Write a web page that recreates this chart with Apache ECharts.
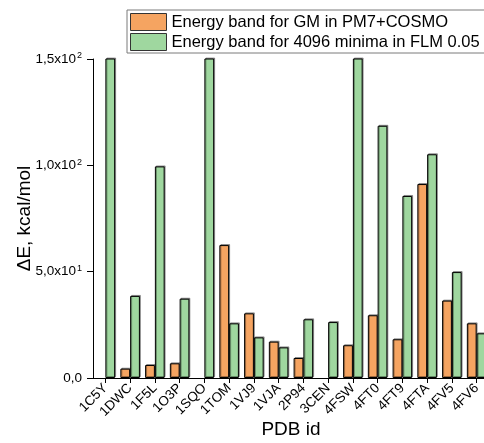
<!DOCTYPE html>
<html>
<head>
<meta charset="utf-8">
<script src="https://cdn.jsdelivr.net/npm/echarts@6/dist/echarts.min.js"></script>
<style>
html,body{margin:0;padding:0;background:#fff;}
#chart{width:484px;height:443px;}
</style>
</head>
<body>
<div id="chart"></div>
<script>
const categories = ['1C5Y','1DWC','1F5L','1O3P','1SQO','1TOM','1VJ9','1VJA','2P94','3CEN','4FSW','4FT0','4FT9','4FTA','4FV5','4FV6'];
const gmValues = [null, 4.4, 6.1, 6.9, null, 62.5, 30.4, 17.1, 9.4, null, 15.4, 29.5, 18.2, 91.2, 36.4, 25.7];
const flmValues = [165, 38.6, 99.5, 37.3, 165, 25.7, 19.1, 14.4, 27.6, 26.3, 165, 118.6, 85.6, 105.2, 49.8, 21.0];
const seriesNames = ['Energy band for GM in PM7+COSMO', 'Energy band for 4096 minima in FLM 0.05'];
const yTickLabels = {0: '0,0', 50: '5,0x10{sup|1}', 100: '1,0x10{sup|2}', 150: '1,5x10{sup|2}'};

const FONT = '"Liberation Sans", Arial, sans-serif';
const chart = echarts.init(document.getElementById('chart'), null, {renderer: 'canvas'});
const barStyle = (color) => ({
  color: color,
  borderColor: '#000',
  borderWidth: 1,
  shadowColor: 'rgba(0,0,0,0.35)',
  shadowBlur: 0,
  shadowOffsetX: 1,
  shadowOffsetY: -1
});
chart.setOption({
  animation: false,
  backgroundColor: '#fff',
  textStyle: {fontFamily: FONT},
  legend: {
    orient: 'vertical',
    left: 127,
    top: 10,
    padding: [3, 40, 2, 3],
    itemWidth: 36,
    itemHeight: 17,
    itemGap: 2,
    icon: 'rect',
    borderColor: '#7a7a7a',
    borderWidth: 1,
    itemStyle: {shadowColor: 'transparent', borderColor: '#333', borderWidth: 1},
    textStyle: {fontFamily: FONT, fontSize: 16.5, color: '#000'},
    data: seriesNames
  },
  grid: {left: 93, top: 59, width: 396, height: 319, outerBoundsMode: 'none', containLabel: false},
  xAxis: {
    type: 'category',
    data: categories,
    name: 'PDB id',
    nameLocation: 'middle',
    nameGap: 42,
    nameMoveOverlap: false,
    nameTextStyle: {fontFamily: FONT, fontSize: 19, color: '#000'},
    axisLine: {show: true, lineStyle: {color: '#000', width: 1}},
    axisTick: {show: true, alignWithLabel: true, length: 5, lineStyle: {color: '#000'}},
    axisLabel: {rotate: 45, interval: 0, margin: 8, fontFamily: FONT, fontSize: 13.5, color: '#000'},
    splitLine: {show: false}
  },
  yAxis: {
    type: 'value',
    min: 0,
    max: 150,
    interval: 50,
    name: 'ΔE, kcal/mol',
    nameLocation: 'middle',
    nameGap: 59,
    nameMoveOverlap: false,
    nameTextStyle: {fontFamily: FONT, fontSize: 19, color: '#000'},
    axisLine: {show: true, lineStyle: {color: '#000', width: 1}},
    axisTick: {show: true, length: 6, lineStyle: {color: '#000'}},
    splitLine: {show: false},
    axisLabel: {
      margin: 11,
      fontFamily: FONT,
      fontSize: 13.5,
      color: '#000',
      formatter: (v) => yTickLabels[v] !== undefined ? yTickLabels[v] : '',
      rich: {sup: {fontSize: 9, verticalAlign: 'top', padding: [0, 0, 6, 1], fontFamily: FONT, color: '#000'}}
    }
  },
  series: [
    {name: seriesNames[0], type: 'bar', data: gmValues, barGap: '0%', barCategoryGap: '21%', clip: true, itemStyle: barStyle('#F5A461')},
    {name: seriesNames[1], type: 'bar', data: flmValues, barGap: '0%', barCategoryGap: '21%', clip: true, itemStyle: barStyle('#9FD79F')}
  ]
});
</script>
</body>
</html>
